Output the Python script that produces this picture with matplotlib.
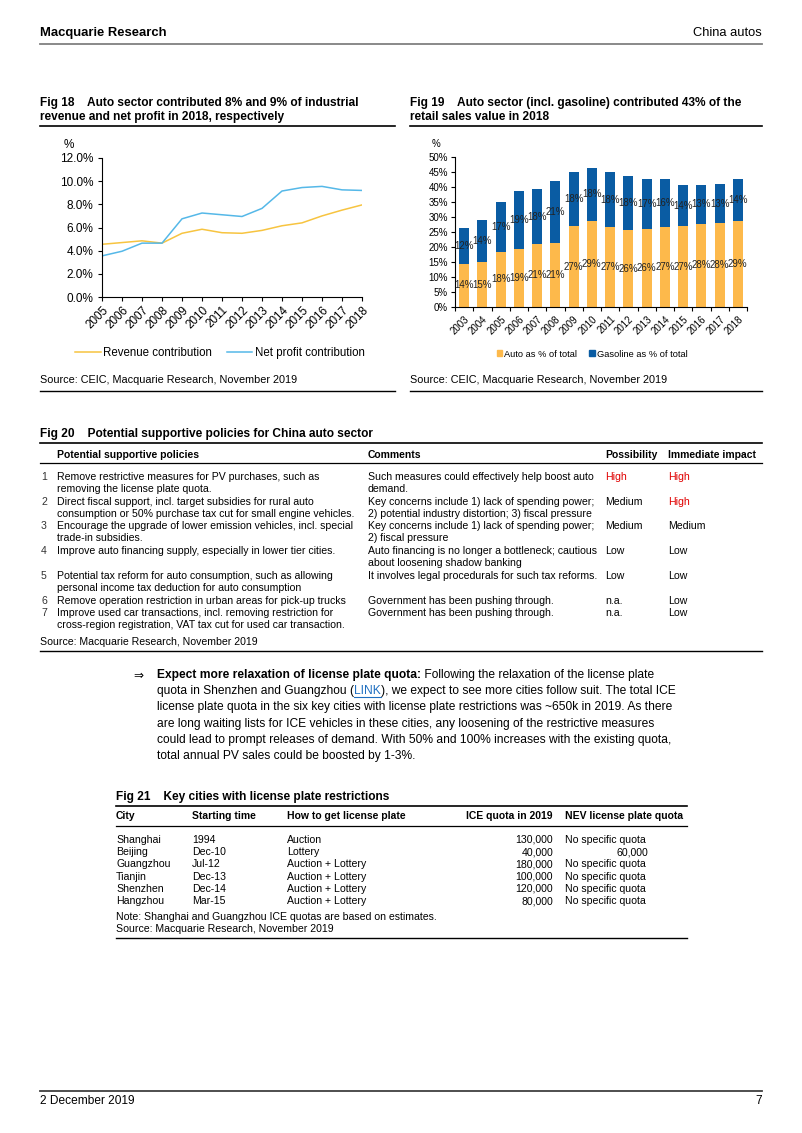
import matplotlib
matplotlib.use("Agg")
import matplotlib.pyplot as plt
from matplotlib.lines import Line2D
from matplotlib.patches import Patch
import numpy as np

plt.rcParams['font.family'] = ['Liberation Sans', 'DejaVu Sans']

W, H = 802, 1133

# ---------------- data ----------------
years18 = ['2005', '2006', '2007', '2008', '2009', '2010', '2011', '2012',
           '2013', '2014', '2015', '2016', '2017', '2018']
revenue_contrib = [4.55, 4.7, 4.85, 4.65, 5.5, 5.85, 5.55, 5.5, 5.75, 6.15, 6.4, 7.0, 7.5, 7.95]
profit_contrib = [3.55, 3.95, 4.65, 4.65, 6.75, 7.25, 7.1, 6.95, 7.65, 9.15, 9.45, 9.55, 9.25, 9.2]
yticks18 = [0, 2, 4, 6, 8, 10, 12]

years19 = ['2003', '2004', '2005', '2006', '2007', '2008', '2009', '2010',
           '2011', '2012', '2013', '2014', '2015', '2016', '2017', '2018']
auto_share = [14.4, 15.0, 18.4, 19.3, 21.0, 21.3, 27.0, 28.6, 26.6, 25.6, 26.0, 26.6, 27.0, 27.8, 27.9, 28.6]
gasoline_share = [11.9, 13.9, 16.6, 19.4, 18.3, 20.6, 18.0, 17.9, 18.4, 18.0, 16.8, 16.0, 13.6, 12.8, 13.0, 14.2]
yticks19 = [0, 5, 10, 15, 20, 25, 30, 35, 40, 45, 50]

policy_num = ['1', '2', '3', '4', '5', '6', '7']
policy_text = [
    ['Remove restrictive measures for PV purchases, such as', 'removing the license plate quota.'],
    ['Direct fiscal support, incl. target subsidies for rural auto', 'consumption or 50% purchase tax cut for small engine vehicles.'],
    ['Encourage the upgrade of lower emission vehicles, incl. special', 'trade-in subsidies.'],
    ['Improve auto financing supply, especially in lower tier cities.'],
    ['Potential tax reform for auto consumption, such as allowing', 'personal income tax deduction for auto consumption'],
    ['Remove operation restriction in urban areas for pick-up trucks'],
    ['Improve used car transactions, incl. removing restriction for', 'cross-region registration, VAT tax cut for used car transaction.'],
]
policy_comment = [
    ['Such measures could effectively help boost auto', 'demand.'],
    ['Key concerns include 1) lack of spending power;', '2) potential industry distortion; 3) fiscal pressure'],
    ['Key concerns include 1) lack of spending power;', '2) fiscal pressure'],
    ['Auto financing is no longer a bottleneck; cautious', 'about loosening shadow banking'],
    ['It involves legal procedurals for such tax reforms.'],
    ['Government has been pushing through.'],
    ['Government has been pushing through.'],
]
policy_possibility = ['High', 'Medium', 'Medium', 'Low', 'Low', 'n.a.', 'n.a.']
policy_impact = ['High', 'High', 'Medium', 'Low', 'Low', 'Low', 'Low']

cities = ['Shanghai', 'Beijing', 'Guangzhou', 'Tianjin', 'Shenzhen', 'Hangzhou']
start_time = ['1994', 'Dec-10', 'Jul-12', 'Dec-13', 'Dec-14', 'Mar-15']
how_to_get = ['Auction', 'Lottery', 'Auction + Lottery', 'Auction + Lottery', 'Auction + Lottery', 'Auction + Lottery']
ice_quota = ['130,000', '40,000', '180,000', '100,000', '120,000', '80,000']
nev_quota = ['No specific quota', '60,000', 'No specific quota', 'No specific quota', 'No specific quota', 'No specific quota']

# ---------------- helpers ----------------
fig = plt.figure(figsize=(W / 100, H / 100), dpi=100)
fig.patch.set_facecolor('white')


def fx(x):
    return x / W


def fy(y):
    return 1 - y / H


def txt(x, y, s, size=7.6, weight='normal', ha='left', color='black', **kw):
    return fig.text(fx(x), fy(y), s, fontsize=size, fontweight=weight, ha=ha,
                    va='center', color=color, **kw)


def hline(x0, x1, y, lw=1.0, color='black'):
    fig.add_artist(Line2D([fx(x0), fx(x1)], [fy(y), fy(y)], transform=fig.transFigure,
                          color=color, lw=lw))


def add_ax(x0, y0, x1, y1):
    return fig.add_axes([fx(x0), fy(y1), (x1 - x0) / W, (y1 - y0) / H])


TS = 8.6   # figure title size
BS = 7.6   # table body size
HS = 7.5   # table header size

# ---------------- header / footer ----------------
txt(40, 33, 'Macquarie Research', size=9.4, weight='bold')
txt(762, 33, 'China autos', size=9.3, ha='right')
hline(40, 762, 44, lw=1.3, color='#808080')
hline(40, 762, 1091, lw=1.3, color='#404040')
txt(40, 1101, '2 December 2019', size=8.6)
txt(762, 1101, '7', size=8.6, ha='right')

# ---------------- Fig 18 ----------------
txt(40, 103, 'Fig 18    Auto sector contributed 8% and 9% of industrial', size=TS, weight='bold')
txt(40, 117, 'revenue and net profit in 2018, respectively', size=TS, weight='bold')
hline(40, 395, 126, lw=1.2)

ax1 = add_ax(102, 158, 362, 297)
xs18 = np.arange(len(years18))
l1, = ax1.plot(xs18, revenue_contrib, color='#F7C440', lw=1.1)
l2, = ax1.plot(xs18, profit_contrib, color='#55B8E8', lw=1.1)
ax1.set_xlim(0, len(years18) - 1)
ax1.set_ylim(0, 12)
ax1.set_yticks(yticks18)
ax1.set_yticklabels([f'{v:.1f}%' for v in yticks18], fontsize=8.5)
ax1.set_xticks(xs18)
ax1.set_xticklabels(years18, rotation=45, ha='right', rotation_mode='anchor', fontsize=8.4)
for s in ['top', 'right']:
    ax1.spines[s].set_visible(False)
for s in ['left', 'bottom']:
    ax1.spines[s].set_linewidth(0.8)
ax1.tick_params(axis='both', length=3, width=0.8, pad=2)
ax1.tick_params(axis='y', pad=3)
fig.text(fx(64), fy(145), '%', fontsize=8.5, va='center')
ax1.legend([l1, l2], ['Revenue contribution', 'Net profit contribution'],
           loc='center', bbox_to_anchor=(fx(220), fy(353)), bbox_transform=fig.transFigure,
           ncol=2, frameon=False, fontsize=8.3, handlelength=2.2, handletextpad=0.2,
           columnspacing=1.3)
txt(40, 380, 'Source: CEIC, Macquarie Research, November 2019', size=7.8)
hline(40, 395, 391, lw=1.0)

# ---------------- Fig 19 ----------------
txt(410, 103, 'Fig 19    Auto sector (incl. gasoline) contributed 43% of the', size=TS, weight='bold')
txt(410, 117, 'retail sales value in 2018', size=TS, weight='bold')
hline(410, 762, 126, lw=1.2)

ax2 = add_ax(455, 157, 747, 307)
xs19 = np.arange(len(years19))
c_auto = ax2.bar(xs19, auto_share, width=0.55, color='#FDB94B', label='Auto as % of total')
c_gas = ax2.bar(xs19, gasoline_share, width=0.55, bottom=auto_share, color='#0A5CA3',
                label='Gasoline as % of total')
ax2.bar_label(c_auto, labels=[f'{v:.0f}%' for v in auto_share], label_type='center',
              fontsize=7.0, color='#222222')
ax2.bar_label(c_gas, labels=[f'{v:.0f}%' for v in gasoline_share], label_type='center',
              fontsize=7.0, color='#222222')
ax2.set_xlim(-0.5, len(years19) - 0.5)
ax2.set_ylim(0, 50)
ax2.set_yticks(yticks19)
ax2.set_yticklabels([f'{v}%' for v in yticks19], fontsize=7.0)
ax2.set_xticks(xs19)
ax2.set_xticklabels(years19, rotation=45, ha='right', rotation_mode='anchor', fontsize=7.0)
ax2.set_xticks(np.arange(-0.5, len(years19), 1), minor=True)
ax2.tick_params(axis='x', which='major', length=0, pad=5)
ax2.tick_params(axis='x', which='minor', length=3, width=0.8)
ax2.tick_params(axis='y', length=3, width=0.8, pad=2)
for s in ['top', 'right']:
    ax2.spines[s].set_visible(False)
for s in ['left', 'bottom']:
    ax2.spines[s].set_linewidth(0.8)
fig.text(fx(432), fy(144), '%', fontsize=7, va='center')
ax2.legend(handles=[Patch(color='#FDB94B'), Patch(color='#0A5CA3')],
           labels=['Auto as % of total', 'Gasoline as % of total'],
           loc='center', bbox_to_anchor=(fx(592), fy(354)), bbox_transform=fig.transFigure,
           ncol=2, frameon=False, fontsize=6.7, handlelength=0.6, handleheight=0.6,
           handletextpad=0.2, columnspacing=1.3)
txt(410, 380, 'Source: CEIC, Macquarie Research, November 2019', size=7.8)
hline(410, 762, 391, lw=1.0)

# ---------------- Fig 20 table ----------------
txt(40, 434, 'Fig 20    Potential supportive policies for China auto sector', size=TS, weight='bold')
hline(40, 762, 443, lw=1.2)
txt(57, 455, 'Potential supportive policies', size=HS, weight='bold')
txt(368, 455, 'Comments', size=HS, weight='bold')
txt(605, 455, 'Possibility', size=HS, weight='bold')
txt(668, 455, 'Immediate impact', size=HS, weight='bold')
hline(40, 762, 463, lw=0.9)

row_y = [477, 502, 526, 551, 576, 601, 613]
lh = 12.2
for i in range(len(policy_num)):
    y = row_y[i]
    txt(41, y, policy_num[i], size=BS, color='#333333')
    for j, line in enumerate(policy_text[i]):
        txt(57, y + j * lh, line, size=BS)
    for j, line in enumerate(policy_comment[i]):
        txt(368, y + j * lh, line, size=BS)
    txt(605, y, policy_possibility[i], size=BS,
        color='#E00000' if policy_possibility[i] == 'High' else 'black')
    txt(668, y, policy_impact[i], size=BS,
        color='#E00000' if policy_impact[i] == 'High' else 'black')
txt(40, 642, 'Source: Macquarie Research, November 2019', size=BS)
hline(40, 762, 651, lw=1.0)

# ---------------- Paragraph ----------------
ps = 8.65
fig.canvas.draw()
renderer = fig.canvas.get_renderer()


def width_px(t):
    return t.get_window_extent(renderer=renderer).width


py = [675, 691.2, 707.4, 723.6, 739.8, 756]
txt(133, py[0], '\u21d2', size=ps, family=['DejaVu Sans'])
t = txt(157, py[0], 'Expect more relaxation of license plate quota:', size=ps, weight='bold')
txt(157 + width_px(t), py[0], ' Following the relaxation of the license plate', size=ps)

t = txt(157, py[1], 'quota in Shenzhen and Guangzhou (', size=ps)
x = 157 + width_px(t)
t = txt(x, py[1], 'LINK', size=ps, color='#1F6FC0')
lw_ = width_px(t)
hline(x, x + lw_, py[1] + 6, lw=0.8, color='#1F6FC0')
txt(x + lw_, py[1], '), we expect to see more cities follow suit. The total ICE', size=ps)

para = [
    'license plate quota in the six key cities with license plate restrictions was ~650k in 2019. As there',
    'are long waiting lists for ICE vehicles in these cities, any loosening of the restrictive measures',
    'could lead to prompt releases of demand. With 50% and 100% increases with the existing quota,',
    'total annual PV sales could be boosted by 1-3%.',
]
for k, line in enumerate(para):
    txt(157, py[k + 2], line, size=ps)

# ---------------- Fig 21 table ----------------
txt(116, 797, 'Fig 21    Key cities with license plate restrictions', size=TS, weight='bold')
hline(116, 687, 806, lw=1.2)
txt(116, 816, 'City', size=HS, weight='bold')
txt(192, 816, 'Starting time', size=HS, weight='bold')
txt(287, 816, 'How to get license plate', size=HS, weight='bold')
txt(553, 816, 'ICE quota in 2019', size=HS, weight='bold', ha='right')
txt(565, 816, 'NEV license plate quota', size=HS, weight='bold')
hline(116, 687, 826, lw=0.9)
for i in range(len(cities)):
    y = 840 + i * 12.2
    txt(116, y, cities[i], size=BS)
    txt(192, y, start_time[i], size=BS)
    txt(287, y, how_to_get[i], size=BS)
    txt(553, y, ice_quota[i], size=BS, ha='right')
    if nev_quota[i].startswith('No'):
        txt(565, y, nev_quota[i], size=BS)
    else:
        txt(648, y, nev_quota[i], size=BS, ha='right')
txt(116, 917, 'Note: Shanghai and Guangzhou ICE quotas are based on estimates.', size=BS)
txt(116, 929, 'Source: Macquarie Research, November 2019', size=BS)
hline(116, 687, 938, lw=1.0)

fig.savefig('out.png', dpi=100, facecolor='white')
